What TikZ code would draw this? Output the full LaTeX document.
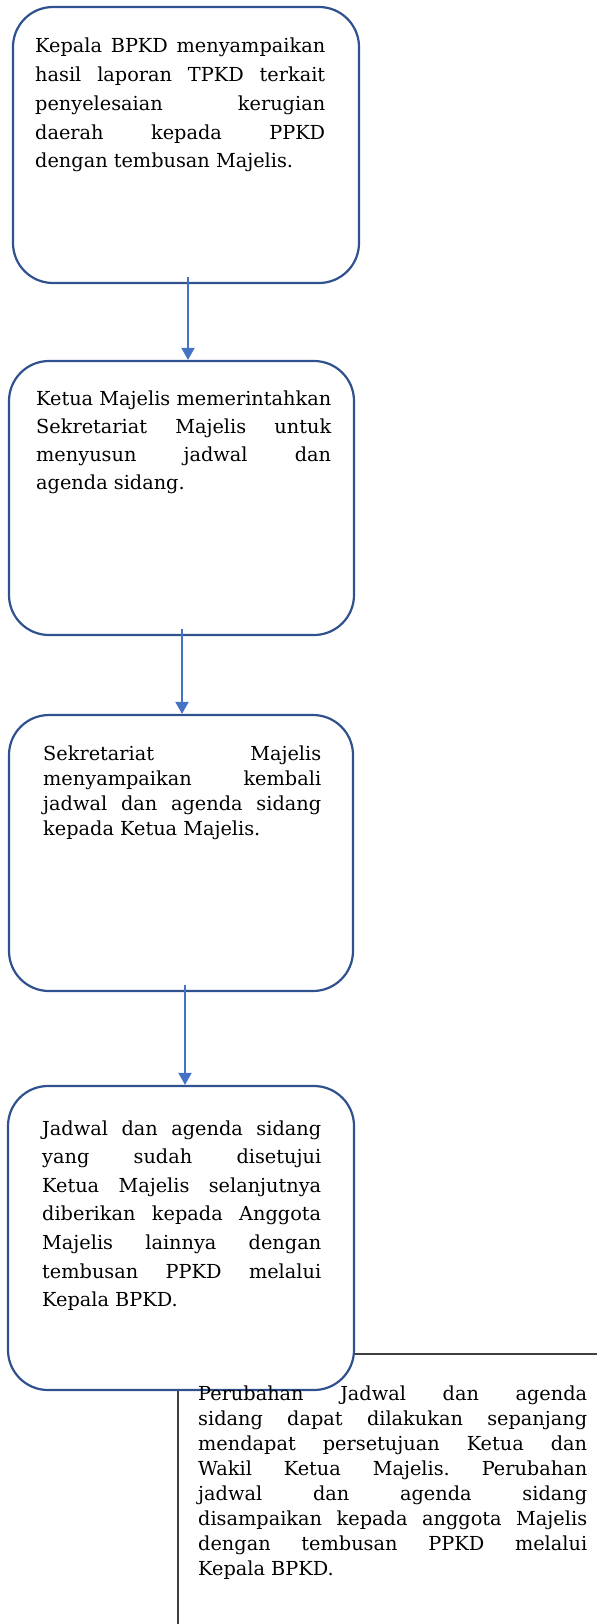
\documentclass[tikz,border=0pt]{standalone}
\usepackage{fontspec}
\setmainfont{DejaVu Serif}
\usetikzlibrary{arrows.meta}
\definecolor{boxblue}{HTML}{2F528F}
\definecolor{arrowblue}{HTML}{4472C4}
\definecolor{linegray}{HTML}{404040}
\frenchspacing
\tikzset{
  stepbox/.style={draw=boxblue, line width=2.2pt, rounded corners=40pt,
    inner sep=0pt, rectangle},
  bodytext/.style={anchor=base west, inner sep=0pt, align=justify,
    font=\fontsize{19.3}{#1}\selectfont},
  flow/.style={draw=arrowblue, line width=2pt,
    -{Triangle[width=13pt,length=12pt]}},
  plainline/.style={draw=linegray, line width=1.3pt},
}
\begin{document}
\begin{tikzpicture}[x=1pt, y=-1pt]
  \useasboundingbox (0,0) rectangle (597,1624);
  \hyphenpenalty=10000

  % rounded step boxes
  \node[stepbox, minimum width=346pt, minimum height=276pt] (b1) at (186,145) {};
  \node[stepbox, minimum width=345pt, minimum height=274pt] (b2) at (181.5,498) {};
  \node[stepbox, minimum width=344pt, minimum height=276pt] (b3) at (181,853) {};
  \node[stepbox, minimum width=346pt, minimum height=304pt] (b4) at (181,1238) {};

  % box texts
  \node[bodytext=28.7pt, text width=290pt] (t1) at (35,53)
    {Kepala BPKD menyampaikan\linebreak hasil laporan TPKD terkait\linebreak
     penyelesaian kerugian\linebreak daerah kepada PPKD\linebreak
     dengan tembusan Majelis.};
  \node[bodytext=28.3pt, text width=295pt] (t2) at (36,405)
    {Ketua Majelis memerintahkan\linebreak Sekretariat Majelis untuk\linebreak
     menyusun jadwal dan\linebreak agenda sidang.};
  \node[bodytext=25.3pt, text width=278pt] (t3) at (43,760)
    {Sekretariat Majelis\linebreak menyampaikan kembali\linebreak
     jadwal dan agenda sidang\linebreak kepada Ketua Majelis.};
  \node[bodytext=28.6pt, text width=279pt] (t4) at (42,1135)
    {Jadwal dan agenda sidang\linebreak yang sudah disetujui\linebreak
     Ketua Majelis selanjutnya\linebreak diberikan kepada Anggota\linebreak
     Majelis lainnya dengan\linebreak tembusan PPKD melalui\linebreak
     Kepala BPKD.};
  \node[bodytext=25pt, text width=389pt] (t5) at (198,1400)
    {Perubahan Jadwal dan agenda\linebreak sidang dapat dilakukan sepanjang\linebreak
     mendapat persetujuan Ketua dan\linebreak Wakil Ketua Majelis. Perubahan\linebreak
     jadwal dan agenda sidang\linebreak disampaikan kepada anggota Majelis\linebreak
     dengan tembusan PPKD melalui\linebreak Kepala BPKD.};

  % arrows between steps
  \coordinate (a1) at (188,277);
  \draw[flow] (a1) -- (a1 |- b2.north);
  \coordinate (a2) at (182,629);
  \draw[flow] (a2) -- (a2 |- b3.north);
  \coordinate (a3) at (185,985);
  \draw[flow] (a3) -- (a3 |- b4.north);

  % note bracket lines
  \coordinate (h1) at (597,1354);
  \draw[plainline] (b4.east |- h1) -- (h1);
  \coordinate (v1) at (178,1624);
  \draw[plainline] (v1 |- b4.south) -- (v1);
\end{tikzpicture}
\end{document}
